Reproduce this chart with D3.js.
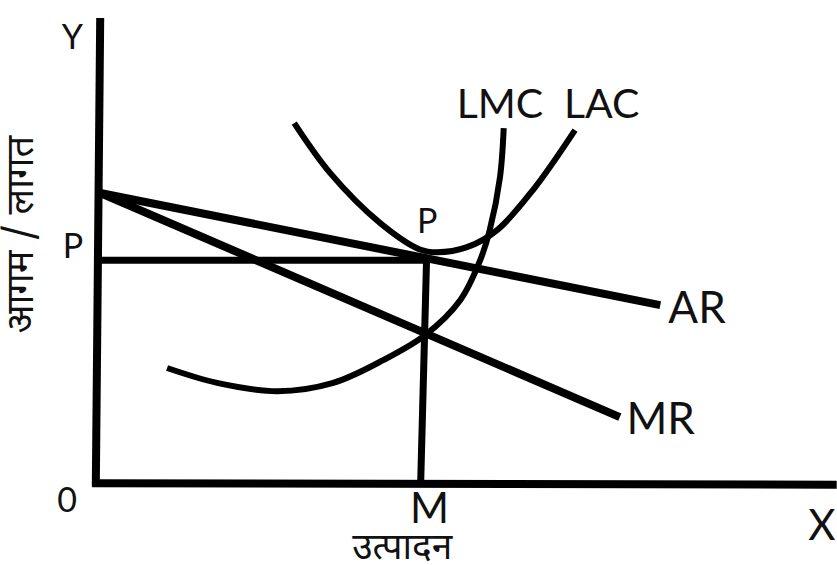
<!DOCTYPE html>
<html lang="hi">
<head>
    <meta charset="UTF-8">
    <title>Monopolistic competition - long run</title>
    <script src="https://d3js.org/d3.v7.min.js"></script>
    <style>
        body { margin: 0; background: #fff; }
        text { font-family: Lato, "Open Sans", sans-serif; fill: #111; }
        .hi { font-family: "Noto Sans Devanagari", "Noto Sans", sans-serif; }
    </style>
</head>
<body>
    <svg width="837" height="565"></svg>

    <script>
        // curve / line data, in chart units (x: output 0-100, y: revenue/cost 0-100)
        const lacPoints = [[26.7, 77.3], [31.6, 66.5], [38.4, 55.7], [43.8, 50.0], [46.1, 49.4],
                           [50.2, 50.5], [54.3, 54.2], [59.2, 62.9], [64.9, 75.8]];
        const lmcPoints = [[9.4, 24.4], [16.2, 21.2], [24.4, 19.4], [32.0, 21.2], [38.8, 26.1],
                           [44.5, 31.5], [49.3, 39.1], [52.0, 47.7], [53.3, 54.2], [54.7, 65.7], [55.2, 76.2]];
        const arLine = [[0.3, 62.2], [76.5, 38.0]];
        const mrLine = [[0.3, 62.2], [71.0, 13.8]];
        const priceLine = [[0.3, 47.7], [44.7, 47.7]];
        const qtyLine = [[43.9, -0.5], [44.7, 47.7]];
        const xAxisLine = [[-0.8, -0.5], [100.5, -0.8]];
        const yAxisLine = [[-0.3, -1.2], [0.3, 100]];

        // labels: [text, x, y]
        const curveLabels = [["LMC", 48.8, 78.4], ["LAC", 63.4, 78.4], ["AR", 77.6, 34.2], ["MR", 71.9, 10.2]];
        const pointLabels = [["Y", -3.5, 93.3], ["0", -4.2, -6.7], ["P", -3.4, 48.1], ["P", 44.8, 53.6],
                             ["M", 45.1, -9.0], ["X", 98.5, -12.7]];
        const xTitle = "उत्पादन";
        const yTitle = "आगम / लागत";

        const svg = d3.select('svg');
        const x = d3.scaleLinear().domain([0, 100]).range([98, 833]);
        const y = d3.scaleLinear().domain([0, 100]).range([481, 18]);

        const line = d3.line().x(d => x(d[0])).y(d => y(d[1]));
        const curve = d3.line().x(d => x(d[0])).y(d => y(d[1])).curve(d3.curveCatmullRom.alpha(0.5));

        // axes
        [xAxisLine, yAxisLine].forEach(d => {
            svg.append('path').attr('d', line(d))
                .attr('fill', 'none').attr('stroke', '#000').attr('stroke-width', 8);
        });

        // price / quantity lines
        [priceLine, qtyLine].forEach(d => {
            svg.append('path').attr('d', line(d))
                .attr('fill', 'none').attr('stroke', '#000').attr('stroke-width', 7);
        });

        // AR and MR
        [arLine, mrLine].forEach(d => {
            svg.append('path').attr('d', line(d))
                .attr('fill', 'none').attr('stroke', '#000').attr('stroke-width', 8);
        });

        // LAC and LMC
        [lacPoints, lmcPoints].forEach(d => {
            svg.append('path').attr('d', curve(d))
                .attr('fill', 'none').attr('stroke', '#000').attr('stroke-width', 6);
        });

        svg.selectAll('.clabel')
            .data(curveLabels)
            .enter().append('text')
            .attr('class', 'clabel')
            .attr('x', d => x(d[1]))
            .attr('y', d => y(d[2]))
            .attr('font-size', d => d[0].length > 2 ? 41 : 44)
            .text(d => d[0]);

        svg.selectAll('.plabel')
            .data(pointLabels)
            .enter().append('text')
            .attr('class', 'plabel')
            .attr('x', d => x(d[1]))
            .attr('y', d => y(d[2]))
            .attr('text-anchor', 'middle')
            .attr('font-size', d => (d[0] === 'M' || d[0] === 'X') ? 42 : 34)
            .text(d => d[0]);

        svg.append('text')
            .attr('class', 'hi')
            .attr('x', x(41.4))
            .attr('y', y(-16.9))
            .attr('text-anchor', 'middle')
            .attr('font-size', 37)
            .text(xTitle);

        svg.append('text')
            .attr('class', 'hi')
            .attr('transform', `translate(${x(-8.9)},${y(53.2)}) rotate(-90)`)
            .attr('text-anchor', 'middle')
            .attr('font-size', 38)
            .text(yTitle);
    </script>
</body>
</html>
